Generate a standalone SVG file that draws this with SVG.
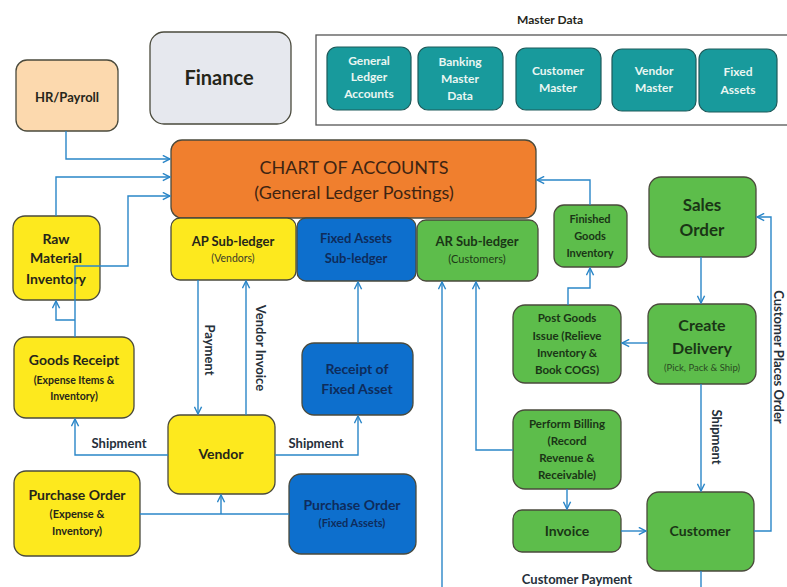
<svg xmlns="http://www.w3.org/2000/svg" width="787" height="587" viewBox="0 0 787 587">
  <defs>
    <marker id="arr" viewBox="0 0 10 10" refX="9" refY="5" markerWidth="9" markerHeight="9" markerUnits="userSpaceOnUse" orient="auto">
      <path d="M1,1 L9,5 L1,9" fill="none" stroke="#2a86c8" stroke-width="1.6"/>
    </marker>
  </defs>
  <style>
    text { font-family: Lato, "Liberation Sans", sans-serif; text-anchor: middle; }
    .box { stroke: #4a4a3c; stroke-width: 1.3; }
    .yel { fill: #fde91e; }
    .blu { fill: #0d6fcd; }
    .grn { fill: #5dbd4b; }
    .teal { fill: #189a9c; stroke: #1d5a5a; stroke-width: 1.2; }
    .t { fill: #26261a; font-weight: bold; }
    .tb { fill: #0e2c5c; font-weight: bold; }
    .tg { fill: #1a3516; font-weight: bold; }
    .tt { fill: #eaf6f2; font-weight: bold; font-size: 12px; }
    .c { fill: none; stroke: #2a86c8; stroke-width: 1.4; }
    .lbl { fill: #26303a; font-weight: bold; font-size: 13px; }
  </style>
  <rect width="787" height="587" fill="#ffffff"/>

  <!-- top row -->
  <g id="hr-payroll">
    <rect class="box" x="16" y="60" width="102" height="71" rx="11" fill="#fcd9ae"/>
    <text class="t" x="67" y="102" font-size="13">HR/Payroll</text>
  </g>
  <g id="finance">
    <rect class="box" x="150" y="32" width="141" height="92" rx="14" fill="#e6e8ee" stroke="#6a7078"/>
    <text class="t" x="219" y="85" font-size="20" fill="#253040">Finance</text>
  </g>
  <g id="master-data">
    <text class="t" x="550" y="24" font-size="12">Master Data</text>
    <rect x="316" y="35" width="480" height="90" fill="#ffffff" stroke="#555" stroke-width="1.3"/>
    <g id="md-gl">
      <rect class="teal" x="327" y="47" width="84" height="63" rx="10"/>
      <text class="tt" x="369" y="65">General</text>
      <text class="tt" x="369" y="81">Ledger</text>
      <text class="tt" x="369" y="98">Accounts</text>
    </g>
    <g id="md-banking">
      <rect class="teal" x="418" y="47" width="85" height="63" rx="10"/>
      <text class="tt" x="460" y="66">Banking</text>
      <text class="tt" x="460" y="83">Master</text>
      <text class="tt" x="460" y="100">Data</text>
    </g>
    <g id="md-customer">
      <rect class="teal" x="516" y="48" width="85" height="62" rx="10"/>
      <text class="tt" x="558" y="75">Customer</text>
      <text class="tt" x="558" y="92">Master</text>
    </g>
    <g id="md-vendor">
      <rect class="teal" x="612" y="49" width="84" height="62" rx="10"/>
      <text class="tt" x="654" y="75">Vendor</text>
      <text class="tt" x="654" y="92">Master</text>
    </g>
    <g id="md-fixed">
      <rect class="teal" x="699" y="49" width="78" height="63" rx="10"/>
      <text class="tt" x="738" y="76">Fixed</text>
      <text class="tt" x="738" y="94">Assets</text>
    </g>
  </g>

  <!-- ledger -->
  <g id="chart-of-accounts">
    <rect class="box" x="171" y="140" width="365" height="78" rx="11" fill="#f07f2e"/>
    <text x="354" y="174" font-size="18" fill="#3e2412">CHART OF ACCOUNTS</text>
    <text x="354" y="199" font-size="18" fill="#3e2412">(General Ledger Postings)</text>
  </g>
  <g id="ap-subledger">
    <rect class="box yel" x="171" y="218" width="125" height="62" rx="9"/>
    <text class="t" x="233" y="246" font-size="13">AP Sub-ledger</text>
    <text x="233" y="262" font-size="10.5" fill="#3a3a2a">(Vendors)</text>
  </g>
  <g id="fa-subledger">
    <rect class="box blu" x="297" y="218" width="119" height="63" rx="9"/>
    <text class="tb" x="356" y="243" font-size="13">Fixed Assets</text>
    <text class="tb" x="356" y="263" font-size="13">Sub-ledger</text>
  </g>
  <g id="ar-subledger">
    <rect class="box grn" x="417" y="220" width="121" height="61" rx="9"/>
    <text class="tg" x="477" y="246" font-size="13">AR Sub-ledger</text>
    <text x="477" y="263" font-size="11" fill="#1d3a18">(Customers)</text>
  </g>

  <!-- procurement side -->
  <g id="raw-material">
    <rect class="box yel" x="13" y="216" width="87" height="84" rx="12"/>
    <text class="t" x="56" y="244" font-size="14">Raw</text>
    <text class="t" x="56" y="263" font-size="14">Material</text>
    <text class="t" x="56" y="284" font-size="14">Inventory</text>
  </g>
  <g id="goods-receipt">
    <rect class="box yel" x="14" y="337" width="120" height="81" rx="12"/>
    <text class="t" x="74" y="365" font-size="14">Goods Receipt</text>
    <text class="t" x="74" y="384" font-size="10.5">(Expense Items &amp;</text>
    <text class="t" x="74" y="400" font-size="10.5">Inventory)</text>
  </g>
  <g id="vendor">
    <rect class="box yel" x="168" y="415" width="107" height="79" rx="12"/>
    <text class="t" x="221" y="459" font-size="14">Vendor</text>
  </g>
  <g id="receipt-fixed-asset">
    <rect class="box blu" x="302" y="343" width="111" height="72" rx="12"/>
    <text class="tb" x="357" y="374" font-size="14">Receipt of</text>
    <text class="tb" x="357" y="394" font-size="14">Fixed Asset</text>
  </g>
  <g id="po-expense">
    <rect class="box yel" x="14" y="471" width="126" height="85" rx="12"/>
    <text class="t" x="77" y="500" font-size="14">Purchase Order</text>
    <text class="t" x="77" y="518" font-size="11">(Expense &amp;</text>
    <text class="t" x="77" y="535" font-size="11">Inventory)</text>
  </g>
  <g id="po-fixed">
    <rect class="box blu" x="289" y="474" width="127" height="80" rx="12"/>
    <text class="tb" x="352" y="510" font-size="14">Purchase Order</text>
    <text class="tb" x="352" y="527" font-size="11" font-weight="normal">(Fixed Assets)</text>
  </g>

  <!-- sales side -->
  <g id="finished-goods">
    <rect class="box grn" x="554" y="205" width="73" height="62" rx="10"/>
    <text class="tg" x="590" y="223" font-size="11">Finished</text>
    <text class="tg" x="590" y="240" font-size="11">Goods</text>
    <text class="tg" x="590" y="257" font-size="11">Inventory</text>
  </g>
  <g id="sales-order">
    <rect class="box grn" x="649" y="177" width="107" height="80" rx="12"/>
    <text class="tg" x="702" y="211" font-size="17">Sales</text>
    <text class="tg" x="702" y="236" font-size="17">Order</text>
  </g>
  <g id="post-goods-issue">
    <rect class="box grn" x="513" y="305" width="108" height="78" rx="12"/>
    <text class="tg" x="567" y="322" font-size="11.5" font-weight="600">Post Goods</text>
    <text class="tg" x="567" y="340" font-size="11.5" font-weight="600">Issue (Relieve</text>
    <text class="tg" x="567" y="357" font-size="11.5" font-weight="600">Inventory &amp;</text>
    <text class="tg" x="567" y="374" font-size="11.5" font-weight="600">Book COGS)</text>
  </g>
  <g id="create-delivery">
    <rect class="box grn" x="648" y="304" width="108" height="80" rx="12"/>
    <text class="tg" x="702" y="331" font-size="16">Create</text>
    <text class="tg" x="702" y="354" font-size="16">Delivery</text>
    <text x="702" y="371" font-size="9.5" fill="#2a4a22">(Pick, Pack &amp; Ship)</text>
  </g>
  <g id="perform-billing">
    <rect class="box grn" x="513" y="410" width="108" height="79" rx="12"/>
    <text class="tg" x="567" y="428" font-size="11.5" font-weight="600">Perform Billing</text>
    <text class="tg" x="567" y="445" font-size="11.5" font-weight="600">(Record</text>
    <text class="tg" x="567" y="462" font-size="11.5" font-weight="600">Revenue &amp;</text>
    <text class="tg" x="567" y="479" font-size="11.5" font-weight="600">Receivable)</text>
  </g>
  <g id="invoice">
    <rect class="box grn" x="513" y="510" width="108" height="42" rx="9"/>
    <text class="tg" x="567" y="536" font-size="14">Invoice</text>
  </g>
  <g id="customer">
    <rect class="box grn" x="647" y="492" width="107" height="79" rx="12"/>
    <text class="tg" x="700" y="536" font-size="14">Customer</text>
  </g>

  <!-- connectors -->
  <g id="connectors">
    <path class="c" d="M66,131 V159 H170" marker-end="url(#arr)"/>
    <path class="c" d="M56,216 V177 H170" marker-end="url(#arr)"/>
    <path class="c" d="M75,337 V266 H128 V196 H170" marker-end="url(#arr)"/>
    <path class="c" d="M75,320 H56 V301" marker-end="url(#arr)"/>
    <path class="c" d="M198,280 V414" marker-end="url(#arr)"/>
    <path class="c" d="M246,415 V281" marker-end="url(#arr)"/>
    <path class="c" d="M168,455 H75 V419" marker-end="url(#arr)"/>
    <path class="c" d="M275,455 H358 V416" marker-end="url(#arr)"/>
    <path class="c" d="M140,514 H289"/>
    <path class="c" d="M221,514 V495" marker-end="url(#arr)"/>
    <path class="c" d="M358,343 V282" marker-end="url(#arr)"/>
    <path class="c" d="M442,587 V282" marker-end="url(#arr)"/>
    <path class="c" d="M513,450 H476 V282" marker-end="url(#arr)"/>
    <path class="c" d="M590,205 V180 H537" marker-end="url(#arr)"/>
    <path class="c" d="M568,305 V288 H590 V268" marker-end="url(#arr)"/>
    <path class="c" d="M648,343 H622" marker-end="url(#arr)"/>
    <path class="c" d="M701,257 V303" marker-end="url(#arr)"/>
    <path class="c" d="M701,384 V491" marker-end="url(#arr)"/>
    <path class="c" d="M567,489 V509" marker-end="url(#arr)"/>
    <path class="c" d="M621,531 H646" marker-end="url(#arr)"/>
    <path class="c" d="M754,531 H771 V217 H757" marker-end="url(#arr)"/>
    <path class="c" d="M701,571 V587"/>

    <text class="lbl" x="119" y="448" font-size="14">Shipment</text>
    <text class="lbl" x="316" y="448" font-size="14">Shipment</text>
    <text class="lbl" transform="translate(205,350) rotate(90)" font-size="12">Payment</text>
    <text class="lbl" transform="translate(256,348) rotate(90)">Vendor Invoice</text>
    <text class="lbl" transform="translate(712,437) rotate(90)">Shipment</text>
    <text class="lbl" transform="translate(774,357) rotate(90)" font-size="12">Customer Places Order</text>
    <text class="lbl" x="577" y="584">Customer Payment</text>
  </g>
</svg>
